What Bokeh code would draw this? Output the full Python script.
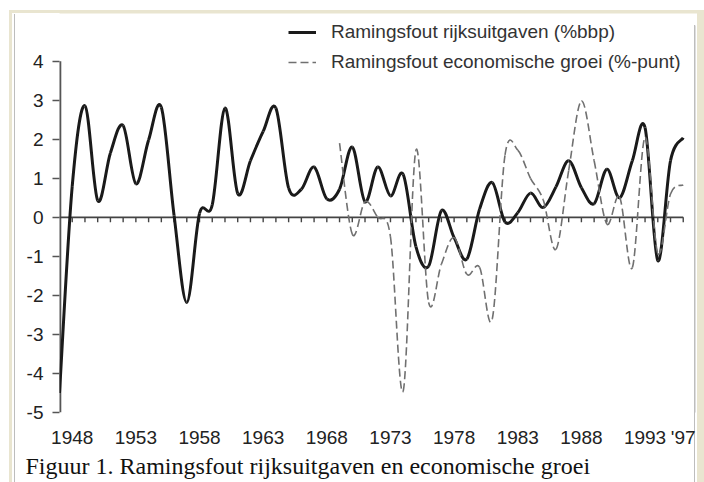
import numpy as np
from bokeh.plotting import figure
from bokeh.models import (Legend, LegendItem, FixedTicker, Title,
                          ColumnDataSource, BoxAnnotation)
from bokeh.embed import file_html
from bokeh.resources import INLINE

# ---------------- data ----------------
years_uitgaven = list(range(1947, 1997))
uitgaven = [-4.5, 0.8, 2.86, 0.43, 1.65, 2.35, 0.86, 1.98, 2.82, 0.05,
            -2.18, 0.1, 0.32, 2.8, 0.61, 1.45, 2.2, 2.8, 0.75, 0.72,
            1.29, 0.47, 0.72, 1.8, 0.4, 1.29, 0.55, 1.1, -0.75, -1.25,
            0.17, -0.52, -1.07, 0.21, 0.89, -0.12, 0.12, 0.62, 0.25, 0.78,
            1.45, 0.76, 0.35, 1.23, 0.5, 1.45, 2.3, -1.11, 1.45, 2.04]

years_groei = list(range(1969, 1997))
groei = [1.9, -0.43, 0.4, 0.0, -0.5, -4.45, 1.72, -2.18, -1.2, -0.52,
         -1.46, -1.28, -2.6, 1.6, 1.72, 1.0, 0.45, -0.82, 1.2, 2.98,
         1.45, -0.17, 0.52, -1.29, 2.05, -0.92, 0.6, 0.83]

tick_years = [1948, 1953, 1958, 1963, 1968, 1973, 1978, 1983, 1988, 1993, 1996]
tick_labels = ["1948", "1953", "1958", "1963", "1968", "1973", "1978",
               "1983", "1988", "1993", "'97"]
y_ticks = [-5, -4, -3, -2, -1, 0, 1, 2, 3, 4]
y_tick_labels = ["-5", "-4", "-3", "-2", "-1", "0", "1", "2", "3", "4"]
minor_years = list(range(1948, 1997))

label_uitgaven = "Ramingsfout rijksuitgaven (%bbp)"
label_groei = "Ramingsfout economische groei (%-punt)"
caption = "Figuur 1. Ramingsfout rijksuitgaven en economische groei"


def smooth_source(xs, ys):
    """Cubic Bezier pieces through the data points (smoothed line)."""
    x = np.asarray(xs, float)
    y = np.asarray(ys, float)
    xp = np.concatenate([[x[0]], x, [x[-1]]])
    yp = np.concatenate([[y[0]], y, [y[-1]]])
    n = len(x) - 1
    d = dict(x0=[], y0=[], x1=[], y1=[], cx0=[], cy0=[], cx1=[], cy1=[])
    for i in range(n):
        a, b = i + 1, i + 2
        d["x0"].append(xp[a]); d["y0"].append(yp[a])
        d["x1"].append(xp[b]); d["y1"].append(yp[b])
        d["cx0"].append(xp[a] + (xp[b] - xp[a - 1]) / 6.0)
        d["cy0"].append(yp[a] + (yp[b] - yp[a - 1]) / 6.0)
        d["cx1"].append(xp[b] - (xp[b + 1] - xp[a]) / 6.0)
        d["cy1"].append(yp[b] - (yp[b + 1] - yp[a]) / 6.0)
    return ColumnDataSource(d)


FONT = "Liberation Sans"
BEIGE = "#e9e5d0"
GRAY = "#bdbdbd"

frame_css = ", ".join([
    f"linear-gradient({BEIGE},{BEIGE}) 9px 10px / 695px 3px no-repeat",
    f"linear-gradient({BEIGE},{BEIGE}) 9px 10px / 3px 472px no-repeat",
    f"linear-gradient({GRAY},{GRAY}) 14px 14px / 1px 468px no-repeat",
    f"linear-gradient({GRAY},{GRAY}) 694px 25px / 1px 457px no-repeat",
    f"linear-gradient({BEIGE},{BEIGE}) 697px 10px / 7px 472px no-repeat",
    "white",
])

p = figure(width=704, height=482, x_range=(1947, 1997.67), y_range=(-5, 5.555),
           output_backend="svg", toolbar_location=None, title=None,
           min_border_left=59, min_border_right=0, min_border_top=0,
           min_border_bottom=70, styles={"background": frame_css})
p.xgrid.visible = False
p.ygrid.visible = False
p.outline_line_color = None
p.background_fill_alpha = 0
p.border_fill_alpha = 0

# y axis (ticks and labels; its line is drawn only from -5 to 4 below)
p.yaxis.ticker = FixedTicker(ticks=y_ticks)
p.yaxis.major_label_overrides = dict(zip(y_ticks, y_tick_labels))
p.yaxis.axis_line_color = None
p.yaxis.major_tick_line_color = "#555555"
p.yaxis.major_tick_line_width = 1.5
p.yaxis.major_tick_out = 7
p.yaxis.major_tick_in = 0
p.yaxis.minor_tick_line_color = None
p.yaxis.major_label_standoff = 9
p.yaxis.major_label_text_font = FONT
p.yaxis.major_label_text_font_size = "19px"
p.yaxis.major_label_text_color = "#222222"
p.segment(x0=[years_uitgaven[0]], y0=[y_ticks[0]], x1=[years_uitgaven[0]],
          y1=[y_ticks[-1]], line_color="#555555", line_width=3.6)

# x axis (labels only)
p.xaxis.ticker = FixedTicker(ticks=tick_years)
p.xaxis.major_label_overrides = dict(zip(tick_years, tick_labels))
p.xaxis.axis_line_color = None
p.xaxis.major_tick_line_color = None
p.xaxis.minor_tick_line_color = None
p.xaxis.major_tick_out = 0
p.xaxis.major_label_standoff = 14
p.xaxis.major_label_text_font = FONT
p.xaxis.major_label_text_font_size = "19px"
p.xaxis.major_label_text_color = "#222222"
p.xaxis.major_label_text_line_height = 0.75

# zero line with yearly tick marks
p.segment(x0=[years_uitgaven[0]], y0=[0], x1=[years_uitgaven[-1]], y1=[0],
          line_color="#444444", line_width=1.6)
p.ray(x=minor_years, y=[0] * len(minor_years), length=5, angle=-np.pi / 2,
      length_units="screen", line_color="#444444", line_width=1.4)

# series
r1 = p.bezier(x0="x0", y0="y0", x1="x1", y1="y1", cx0="cx0", cy0="cy0",
              cx1="cx1", cy1="cy1", source=smooth_source(years_uitgaven, uitgaven),
              line_color="#1a1a1a", line_width=3)
r2 = p.bezier(x0="x0", y0="y0", x1="x1", y1="y1", cx0="cx0", cy0="cy0",
              cx1="cx1", cy1="cy1", source=smooth_source(years_groei, groei),
              line_color="#707070", line_width=1.6, line_dash="8 4")

legend = Legend(items=[LegendItem(label=label_uitgaven, renderers=[r1]),
                       LegendItem(label=label_groei, renderers=[r2])],
                location=(229, 335), orientation="vertical", padding=0,
                margin=0, spacing=0, glyph_width=28, glyph_height=30,
                label_height=30, label_standoff=15, border_line_color=None,
                background_fill_alpha=0, label_text_font=FONT,
                label_text_font_size="19px", label_text_color="#333333")
p.add_layout(legend)

cap = Title(text=caption, align="left", offset=-34, standoff=0,
            text_font="Liberation Serif", text_font_size="24px",
            text_font_style="normal", text_color="#111111",
            text_line_height=0.75)
p.add_layout(cap, "below")

# backup frame lines inside the plotting area
p.add_layout(BoxAnnotation(left=9, right=704, top=10, bottom=13, left_units="canvas",
                           right_units="canvas", top_units="canvas",
                           bottom_units="canvas", fill_color=BEIGE,
                           fill_alpha=1, line_color=None))
p.add_layout(BoxAnnotation(left=694, right=695, top=25, bottom=482,
                           left_units="canvas", right_units="canvas",
                           top_units="canvas", bottom_units="canvas",
                           fill_color=GRAY, fill_alpha=1, line_color=None))
p.add_layout(BoxAnnotation(left=697, right=704, top=10, bottom=482,
                           left_units="canvas", right_units="canvas",
                           top_units="canvas", bottom_units="canvas",
                           fill_color=BEIGE, fill_alpha=1, line_color=None))

open("out.html", "w").write(file_html(p, INLINE))
